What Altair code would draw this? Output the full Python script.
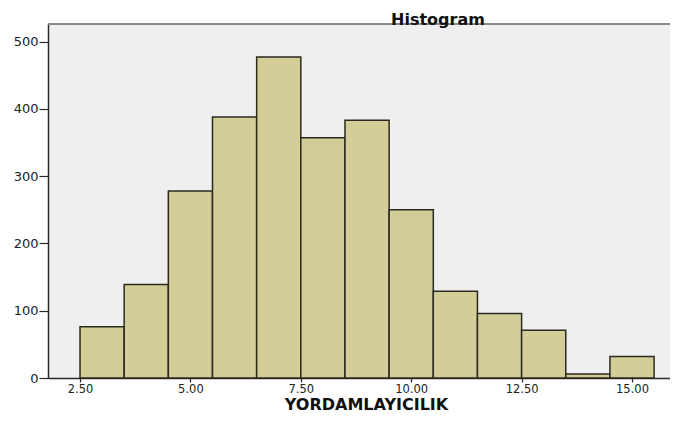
import altair as alt
import pandas as pd

# Histogram bins (width 1) and their counts
bin_starts = [2.5, 3.5, 4.5, 5.5, 6.5, 7.5, 8.5, 9.5, 10.5, 11.5, 12.5, 13.5, 14.5]
bin_width = 1.0
counts = [76, 139, 278, 388, 477, 357, 383, 250, 129, 96, 71, 6, 32]
x_ticks = [2.5, 5.0, 7.5, 10.0, 12.5, 15.0]
y_ticks = [0, 100, 200, 300, 400, 500]

X_MIN, X_MAX = 1.775, 15.86
Y_MAX = 526.1

df = pd.DataFrame({
    "start": bin_starts,
    "end": [s + bin_width for s in bin_starts],
    "count": counts,
})

FONT = "DejaVu Sans"
DARK = "#2b2b2b"

x_scale = alt.Scale(domain=[X_MIN, X_MAX], nice=False, zero=False)
y_scale = alt.Scale(domain=[0, Y_MAX], nice=False)

bars = alt.Chart(df).mark_bar(
    fill="#D3CD98", stroke="#2B2A1E", strokeWidth=1.5
).encode(
    x=alt.X(
        "start:Q", scale=x_scale,
        axis=alt.Axis(
            values=x_ticks, format=".2f", title="YORDAMLAYICILIK", grid=False,
            domainColor=DARK, domainWidth=1.5, tickColor=DARK, tickSize=4, tickWidth=1.2,
            labelFont=FONT, labelFontSize=11.5, labelColor="#222", labelPadding=1,
            labelFlush=False, labelOverlap=False,
            titleFont=FONT, titleFontSize=16, titleFontWeight="bold", titleColor="#111",
            titleBaseline="alphabetic", titleY=31.5, titleX=318, titleAlign="center",
        ),
    ),
    x2="end:Q",
    y=alt.Y(
        "count:Q", scale=y_scale,
        axis=alt.Axis(
            values=y_ticks, format="d", title=None, grid=False,
            domainColor=DARK, domainWidth=1.5, tickColor=DARK, tickSize=9, tickWidth=1.2,
            labelFont=FONT, labelFontSize=13, labelColor="#222", labelPadding=1,
        ),
    ),
    y2=alt.datum(0),
)

# top frame line of the plot area
top_frame = alt.Chart(df).mark_rule(color="#8a8a8a", strokeWidth=1.5).encode(
    x=alt.datum(X_MIN, scale=x_scale),
    x2=alt.datum(X_MAX),
    y=alt.datum(Y_MAX, scale=y_scale),
)

chart = alt.layer(bars, top_frame).properties(
    width=622,
    height=354,
    padding={"left": 40, "top": 16, "right": 0, "bottom": 35},
    autosize=alt.AutoSizeParams(type="none"),
    background="white",
    title=alt.TitleParams(
        "Histogram", anchor="start", frame="group", dx=343, offset=-18,
        baseline="alphabetic", font=FONT, fontSize=16, fontWeight="bold", color="#111",
    ),
).configure_view(
    fill="#EFEFEF", stroke=None
)

chart.save("out.html", embed_options={"renderer": "svg", "actions": False})
